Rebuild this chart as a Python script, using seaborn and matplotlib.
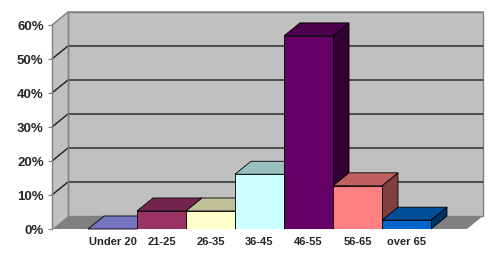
import numpy as np
import matplotlib
matplotlib.use("Agg")
import matplotlib.pyplot as plt
from matplotlib.patches import Polygon, Rectangle
from matplotlib.lines import Line2D
from matplotlib.transforms import IdentityTransform
import matplotlib.colors as mcolors
import seaborn as sns

categories = ["Under 20", "21-25", "26-35", "36-45", "46-55", "56-65", "over 65"]
values = [0.0, 5.3, 5.3, 16.1, 56.8, 12.7, 2.6]
front_colors = ["#9999FF", "#993366", "#FFFFCC", "#CCFFFF", "#660066", "#FF8080", "#0066CC"]
y_ticks = [0, 10, 20, 30, 40, 50, 60]
y_tick_labels = ["0%", "10%", "20%", "30%", "40%", "50%", "60%"]

sns.set_style("white")
plt.rcParams["font.family"] = ["Liberation Sans", "DejaVu Sans"]

W, H, DPI = 499, 256, 100
fig = plt.figure(figsize=(W / DPI, H / DPI), dpi=DPI)
fig.patch.set_facecolor("white")
ax = fig.add_axes([52 / W, 27 / H, 415 / W, 204 / H])

sns.barplot(x=categories, y=values, hue=categories, order=categories,
            palette=front_colors, legend=False, width=1.0, saturation=1,
            edgecolor="black", linewidth=0.6, ax=ax)
bars = sorted([p for p in ax.patches if isinstance(p, Rectangle)], key=lambda p: p.get_x())

xmin, xmax = -0.5 - 36 / 49, 6.5 + 36 / 49
ax.set_xlim(xmin, xmax)
ax.set_ylim(0, 60)
ax.patch.set_visible(False)
for s in ["top", "right", "bottom"]:
    ax.spines[s].set_visible(False)
ax.spines["left"].set_color("#808080")
ax.spines["left"].set_linewidth(1.0)

ax.set_yticks(y_ticks)
ax.set_yticklabels(y_tick_labels, fontsize=9.5, fontweight="bold")
ax.tick_params(axis="y", length=3, color="#808080", pad=3, left=True)
ax.tick_params(axis="x", length=0, pad=6)
for t in ax.get_xticklabels():
    t.set_fontsize(8)
    t.set_fontweight("bold")
ax.set_xlabel("")
ax.set_ylabel("")

DX, DY = 16, 13
ident = IdentityTransform()


def P(x, y, back=False):
    px, py = ax.transData.transform((x, y))
    if back:
        px += DX
        py += DY
    return (px, py)


def poly(pts, fc, ec="none", lw=0.6, z=0):
    p = Polygon(pts, closed=True, facecolor=fc, edgecolor=ec, linewidth=lw,
                transform=ident, clip_on=False, zorder=z)
    ax.add_artist(p)
    return p


ymax = y_ticks[-1]
# left wall
poly([P(xmin, 0), P(xmin, ymax), P(xmin, ymax, True), P(xmin, 0, True)], "#C0C0C0", z=0.1)
# back wall
poly([P(xmin, 0, True), P(xmax, 0, True), P(xmax, ymax, True), P(xmin, ymax, True)],
     "#C0C0C0", ec="#808080", lw=1.0, z=0.1)
# floor
poly([P(xmin, 0), P(xmax, 0), P(xmax, 0, True), P(xmin, 0, True)], "#808080", z=0.2)

# gridlines
for yv in y_ticks[1:]:
    a, b, c = P(xmin, yv), P(xmin, yv, True), P(xmax, yv, True)
    col = "#808080" if yv == ymax else "#1E1E1E"
    ln = Line2D([a[0], b[0], c[0]], [a[1], b[1], c[1]], color=col, lw=1.0,
                transform=ident, clip_on=False, zorder=0.3)
    ax.add_artist(ln)
# back wall left vertical edge
a, b = P(xmin, 0, True), P(xmin, ymax, True)
ax.add_artist(Line2D([a[0], b[0]], [a[1], b[1]], color="#808080", lw=1.0,
                     transform=ident, clip_on=False, zorder=0.3))

for i, bar in enumerate(bars):
    x0 = bar.get_x()
    x1 = x0 + bar.get_width()
    h = bar.get_height()
    base = mcolors.to_rgb(front_colors[i])
    top_c = tuple(c * 0.75 for c in base)
    side_c = tuple(c * 0.5 for c in base)
    z = 2 + i
    poly([P(x1, 0), P(x1, h), P(x1, h, True), P(x1, 0, True)], side_c, ec="black", z=z)
    poly([P(x0, h), P(x1, h), P(x1, h, True), P(x0, h, True)], top_c, ec="black", z=z)
    bar.set_zorder(z + 0.5)

fig.savefig("out.png", dpi=DPI, facecolor="white")
